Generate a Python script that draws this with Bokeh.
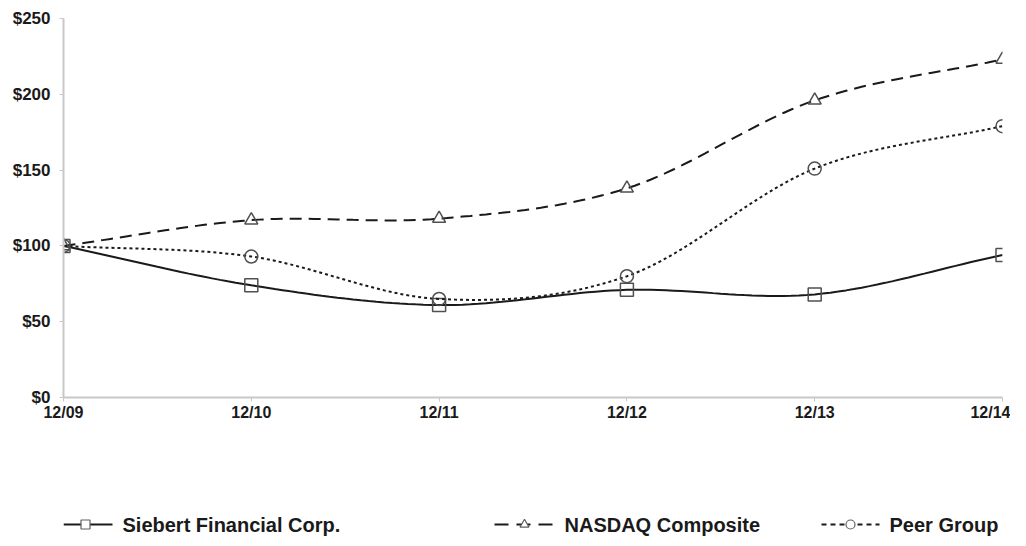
import numpy as np
from bokeh.plotting import figure
from bokeh.layouts import column
from bokeh.models import FixedTicker, NumeralTickFormatter, Range1d
from bokeh.core.properties import value
from bokeh.embed import file_html
from bokeh.resources import INLINE

categories = ["12/09", "12/10", "12/11", "12/12", "12/13", "12/14"]
siebert = [100, 74, 61, 71, 68, 94]
nasdaq = [100, 117, 118, 138, 196, 223]
peer = [100, 93, 65, 80, 151, 179]
y_ticks = [0, 50, 100, 150, 200, 250]
series_names = ["Siebert Financial Corp.", "NASDAQ Composite", "Peer Group"]

FONT = "Liberation Sans"
INK = "#1a1a1a"

def smooth(xs, ys, n=24):
    # Catmull-Rom rendering of the path between the data points (drawing only)
    xs = np.asarray(xs, float); ys = np.asarray(ys, float)
    px = np.concatenate([[2*xs[0]-xs[1]], xs, [2*xs[-1]-xs[-2]]])
    py = np.concatenate([[2*ys[0]-ys[1]], ys, [2*ys[-1]-ys[-2]]])
    outx, outy = [], []
    t = np.linspace(0, 1, n, endpoint=False)
    for i in range(1, len(px)-2):
        for P, out in ((px, outx), (py, outy)):
            p0, p1, p2, p3 = P[i-1], P[i], P[i+1], P[i+2]
            v = 0.5*((2*p1) + (-p0+p2)*t + (2*p0-5*p1+4*p2-p3)*t**2 + (-p0+3*p1-3*p2+p3)*t**3)
            out.extend(v)
    outx.append(xs[-1]); outy.append(ys[-1])
    return outx, outy

xs = list(range(len(categories)))

p = figure(width=1010, height=423, output_backend="svg", toolbar_location=None,
           x_range=Range1d(0, len(categories)-1), y_range=Range1d(0, 250),
           min_border_left=63, min_border_right=8, min_border_top=18, min_border_bottom=23)
p.outline_line_color = None
p.grid.visible = False

for ax in (p.xaxis, p.yaxis):
    ax.axis_line_color = "#c8c8c8"
    ax.axis_line_width = 2
    ax.major_tick_line_color = "#c8c8c8"
    ax.major_tick_line_width = 1
    ax.minor_tick_line_color = None
    ax.major_tick_in = 0
    ax.major_tick_out = 4
    ax.major_label_text_font = FONT
    ax.major_label_text_font_style = "bold"
    ax.major_label_text_font_size = "16px"
    ax.major_label_text_color = INK

p.yaxis.major_label_text_font_size = "17px"
p.xaxis.ticker = FixedTicker(ticks=xs)
p.xaxis.major_label_overrides = {i: c for i, c in enumerate(categories)}
p.xaxis.major_label_standoff = 2
p.yaxis.ticker = FixedTicker(ticks=y_ticks)
p.yaxis.formatter = NumeralTickFormatter(format="$0")
p.yaxis.major_label_standoff = 9

styles = [("solid", "square"), ("12 7", "triangle"), ("3 3", "circle")]
values = [siebert, nasdaq, peer]

for vals, (dash, marker) in zip(values, styles):
    sx, sy = smooth(xs, vals)
    p.line(sx, sy, line_color=INK, line_width=2, line_dash=dash)
    p.scatter(xs, vals, marker=marker, size=13, fill_alpha=0.0,
              line_color="#505050", line_width=1.5)

# legend strip below the chart; its frame lines up with the chart frame,
# so x here runs in page pixels from 64 to 1003
LH = 120
lg = figure(width=1010, height=LH, output_backend="svg", toolbar_location=None,
            x_range=Range1d(64, 1003), y_range=Range1d(0, LH),
            x_axis_type=None, y_axis_type=None,
            min_border_left=63, min_border_right=8, min_border_top=0, min_border_bottom=0)
lg.grid.visible = False
lg.outline_line_color = None

ly = 19
segs = [(64, 113), (495, 555), (822, 880)]
marks = [86, 525, 851]
legend_dash = ["solid", "14 8", "5 4"]
for name, (x0, x1), mx, (dash, marker), ldash in zip(series_names, segs, marks, styles, legend_dash):
    lg.line([x0, x1], [ly, ly], line_color=INK, line_width=2, line_dash=ldash)
    lg.scatter([mx], [ly], marker=marker, size=9,
               fill_color="white", line_color="#606060", line_width=1.2)
    lg.text([x1 + 10], [ly], text=[name], text_font=value(FONT),
            text_font_style="bold", text_font_size="20px", text_color=INK,
            text_align="left", text_baseline="middle")

open("out.html", "w").write(file_html(column(p, lg, spacing=0), INLINE))
